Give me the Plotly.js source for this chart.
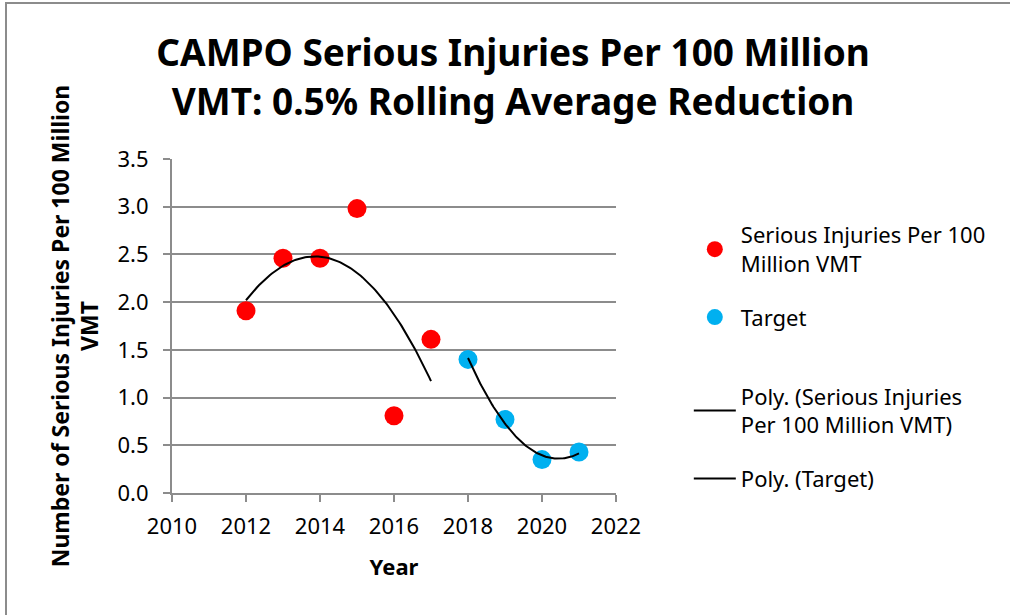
<!DOCTYPE html>
<html>
<head>
<meta charset="utf-8">
<script src="https://cdn.plot.ly/plotly-3.0.1.min.js"></script>
<style>
html,body{margin:0;padding:0;background:#fff;}
#wrap{position:relative;width:1010px;height:615px;overflow:hidden;}
#frame{position:absolute;left:5px;top:2px;width:1100px;height:700px;border-left:2px solid #8c8c8c;border-top:2px solid #8c8c8c;pointer-events:none;z-index:5;}
#chart{width:1010px;height:615px;}
</style>
</head>
<body>
<div id="wrap"><div id="frame"></div><div id="chart"></div></div>
<script>
const years = [2012, 2013, 2014, 2015, 2016, 2017];
const injuries = [1.91, 2.46, 2.46, 2.98, 0.81, 1.61];
const targetYears = [2018, 2019, 2020, 2021];
const targetValues = [1.40, 0.77, 0.35, 0.43];
const xTicks = [2010, 2012, 2014, 2016, 2018, 2020, 2022];
const yTicks = [0, 0.5, 1, 1.5, 2, 2.5, 3, 3.5];

// Polynomial least-squares fit (spreadsheet "Poly." trendline, order 2)
function polyfit(xs, ys, order) {
  const x0 = xs[0];
  const n = order + 1;
  const A = [], b = [];
  for (let i = 0; i < n; i++) {
    A.push(new Array(n).fill(0));
    b.push(0);
  }
  xs.forEach((xv, k) => {
    const t = xv - x0;
    for (let i = 0; i < n; i++) {
      for (let j = 0; j < n; j++) A[i][j] += Math.pow(t, i + j);
      b[i] += ys[k] * Math.pow(t, i);
    }
  });
  for (let i = 0; i < n; i++) {
    let p = i;
    for (let r = i + 1; r < n; r++) if (Math.abs(A[r][i]) > Math.abs(A[p][i])) p = r;
    [A[i], A[p]] = [A[p], A[i]];
    [b[i], b[p]] = [b[p], b[i]];
    for (let r = i + 1; r < n; r++) {
      const f = A[r][i] / A[i][i];
      for (let c = i; c < n; c++) A[r][c] -= f * A[i][c];
      b[r] -= f * b[i];
    }
  }
  const coef = new Array(n).fill(0);
  for (let i = n - 1; i >= 0; i--) {
    let s = b[i];
    for (let c = i + 1; c < n; c++) s -= A[i][c] * coef[c];
    coef[i] = s / A[i][i];
  }
  return x => coef.reduce((acc, c, i) => acc + c * Math.pow(x - x0, i), 0);
}

function trend(xs, ys) {
  const f = polyfit(xs, ys, 2);
  const tx = [], ty = [];
  const a = xs[0], e = xs[xs.length - 1];
  for (let i = 0; i <= 100; i++) {
    const x = a + (e - a) * i / 100;
    tx.push(x); ty.push(f(x));
  }
  return {tx, ty};
}

const t1 = trend(years, injuries);
const t2 = trend(targetYears, targetValues);

const font = "Noto Sans, Liberation Sans, sans-serif";

const data = [
  {x: years, y: injuries, type: 'scatter', mode: 'markers',
   name: 'Serious Injuries Per 100<br>Million VMT', legend: 'legend', legendgroup: 'a',
   marker: {color: '#FF0000', size: 19}, cliponaxis: false},
  {x: targetYears, y: targetValues, type: 'scatter', mode: 'markers', legend: 'legend', legendgroup: 'b',
   name: 'Target', marker: {color: '#00B0F0', size: 19}, cliponaxis: false},
  {x: t1.tx, y: t1.ty, type: 'scatter', mode: 'lines', legend: 'legend2', legendgroup: 'c',
   name: 'Poly. (Serious Injuries<br>Per 100 Million VMT)',
   line: {color: '#000000', width: 2}},
  {x: t2.tx, y: t2.ty, type: 'scatter', mode: 'lines', legend: 'legend2', legendgroup: 'd',
   name: 'Poly. (Target)', line: {color: '#000000', width: 2}}
];

const legendCommon = {xanchor: 'left', yanchor: 'top',
  font: {size: 22, family: font, color: '#000000'}, bgcolor: 'rgba(0,0,0,0)',
  itemwidth: 42, tracegroupgap: 22};

const layout = {
  width: 1010, height: 615,
  margin: {l: 172, r: 394, t: 159, b: 122},
  paper_bgcolor: '#ffffff', plot_bgcolor: '#ffffff',
  font: {family: font, color: '#000000', size: 22},
  title: {text: 'CAMPO Serious Injuries Per 100 Million<br>VMT: 0.5% Rolling Average Reduction',
          font: {family: font, size: 37, color: '#000000', weight: 'bold'},
          x: 0.508, xanchor: 'center', y: 0.892, yanchor: 'middle'},
  xaxis: {range: [2010, 2022], tickvals: xTicks, ticktext: xTicks.map(String),
          showgrid: false, zeroline: false, showline: true, linecolor: '#8c8c8c', linewidth: 2,
          ticks: 'outside', ticklen: 7, tickcolor: '#8c8c8c', tickwidth: 2,
          ticklabelstandoff: 6,
          tickfont: {size: 22, family: font},
          title: {text: 'Year', font: {size: 22, family: font, weight: 'bold'}, standoff: 20}},
  yaxis: {range: [0, 3.5], tickvals: yTicks, ticktext: yTicks.map(v => v.toFixed(1)),
          showgrid: true, gridcolor: '#8c8c8c', gridwidth: 2, zeroline: false,
          showline: true, linecolor: '#8c8c8c', linewidth: 2,
          ticks: 'outside', ticklen: 7, tickcolor: '#8c8c8c', tickwidth: 2,
          ticklabelstandoff: 10,
          tickfont: {size: 22, family: font},
          title: {text: 'Number of Serious Injuries Per 100 Million<br>VMT',
                  font: {size: 23, family: font, weight: 'bold'}, standoff: 12}},
  showlegend: true,
  legend: Object.assign({x: 1.164, y: 0.835}, legendCommon),
  legend2: Object.assign({x: 1.164, y: 0.352}, legendCommon)
};

Plotly.newPlot('chart', data, layout, {displayModeBar: false, responsive: false});
</script>
</body>
</html>
